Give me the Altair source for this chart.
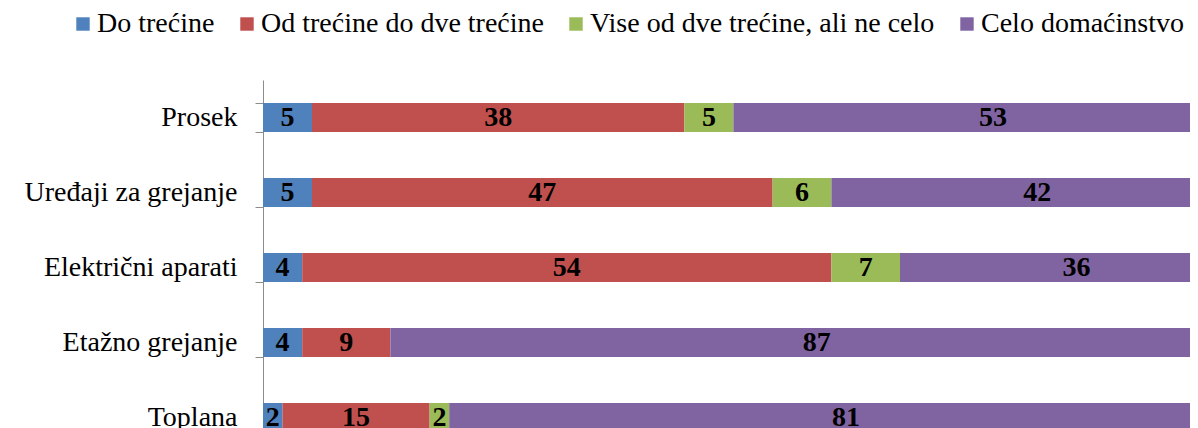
import altair as alt
import pandas as pd

# ---- data ----
categories = [
    "Prosek",
    "Uređaji za grejanje\u00a0",
    "Električni aparati\u00a0",
    "Etažno grejanje",
    "Toplana",
]
series = [
    "Do trećine",
    "Od trećine do dve trećine",
    "Vise od dve trećine, ali ne celo",
    "Celo domaćinstvo",
]
do_trecine = [5, 5, 4, 4, 2]
od_trecine_do_dve = [38, 47, 54, 9, 15]
vise_od_dve = [5, 6, 7, 0, 2]
celo_domacinstvo = [53, 42, 36, 87, 81]
colors = ["#4F81BD", "#C0504D", "#9BBB59", "#8064A2"]

series_values = [do_trecine, od_trecine_do_dve, vise_od_dve, celo_domacinstvo]
rows = []
for si, (s, vals) in enumerate(zip(series, series_values)):
    for c, v in zip(categories, vals):
        rows.append({"category": c, "series": s, "order": si, "value": v})
df = pd.DataFrame(rows)

FONT = "Liberation Serif"

base = alt.Chart(df).transform_stack(
    stack="value",
    groupby=["category"],
    as_=["start", "end"],
    sort=[alt.SortField("order", order="ascending")],
).transform_calculate(mid="(datum.start + datum.end) / 2")

y_enc = alt.Y(
    "category:N",
    sort=categories,
    scale=alt.Scale(range=[0, 375], paddingInner=0.613, paddingOuter=0.3065),
    axis=alt.Axis(
        title=None,
        tickBand="extent",
        tickSize=8,
        tickColor="#8c8c8c",
        domainColor="#8c8c8c",
        labelFont=FONT,
        labelFontSize=28,
        labelColor="black",
        labelPadding=18,
        labelLimit=500,
    ),
)

x_scale = alt.Scale(domain=[0, 100], range=[0, 980], nice=False, zero=True)

bars = base.mark_bar().encode(
    y=y_enc,
    x=alt.X("start:Q", scale=x_scale, axis=None),
    x2="end:Q",
    color=alt.Color(
        "series:N",
        scale=alt.Scale(domain=series, range=colors),
        legend=alt.Legend(
            orient="none",
            legendX=-194,
            legendY=-70,
            direction="horizontal",
            title=None,
        ),
    ),
    order=alt.Order("order:Q"),
)

labels = base.transform_filter("datum.value > 0").mark_text(
    font=FONT, fontSize=28, fontWeight="bold", color="black", baseline="middle"
).encode(
    y=alt.Y("category:N", sort=categories),
    x=alt.X("mid:Q", scale=x_scale, axis=None),
    text=alt.Text("value:Q"),
)

chart = (
    alt.layer(bars, labels)
    .properties(
        width=927,
        height=348,
        autosize=alt.AutoSizeParams(type="none"),
        padding={"left": 255, "top": 72, "right": 0, "bottom": 0},
    )
    .configure_view(stroke=None)
    .configure_legend(
        labelFont=FONT,
        labelFontSize=28,
        labelColor="black",
        labelOffset=0,
        labelLimit=600,
        symbolType="square",
        symbolSize=180,
        symbolStrokeWidth=0,
        columnPadding=18,
        padding=0,
    )
)

chart.save("out.html", embed_options={"renderer": "svg", "actions": False})
